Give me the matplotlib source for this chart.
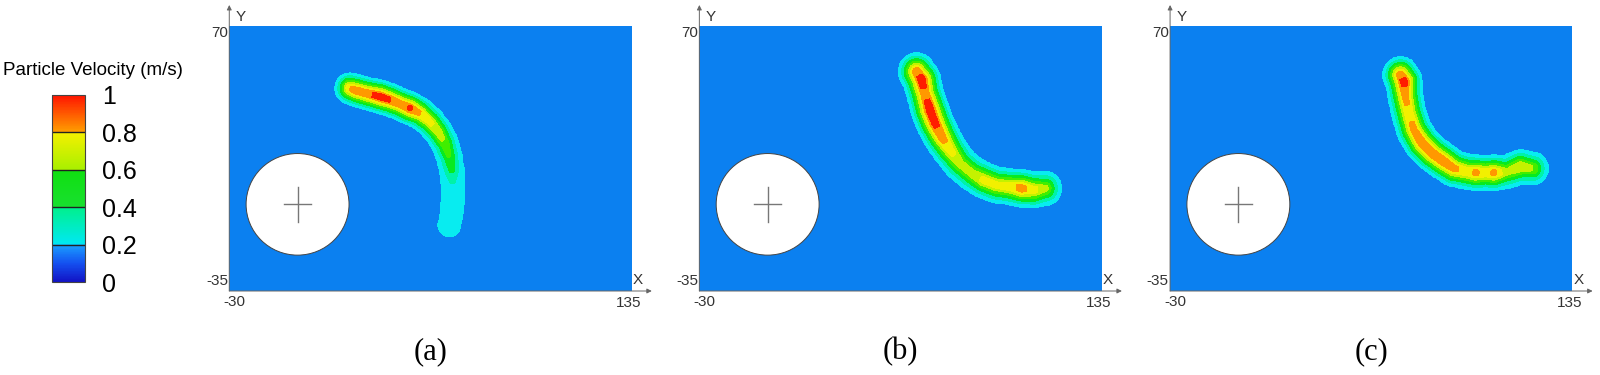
import numpy as np
import matplotlib.pyplot as plt
from matplotlib.colors import LinearSegmentedColormap, Normalize
from matplotlib.cm import ScalarMappable
from matplotlib.patches import Ellipse

# computational domain and cylinder
x_lim = [-30, 135]
y_lim = [-35, 70]
cyl_xy = (-2.0, -0.7)
cyl_w, cyl_h = 42.2, 40.2

# centre line of the particle cloud in each case (x, y) and peak velocity (m/s)
a_x = [19.5, 22.2, 26.3, 31.8, 35.9, 40.0, 44.1, 48.2, 52.3, 55.7, 58.4, 60.2, 61.2, 61.6, 61.6, 61.2, 60.2]
a_y = [45.2, 44.3, 43.2, 41.9, 40.6, 39.0, 37.3, 35.3, 32.0, 28.0, 23.4, 18.2, 12.9, 7.6, 1.0, -4.3, -8.9]
a_v = [0.8, 0.86, 0.87, 0.94, 0.9, 0.85, 0.91, 0.8, 0.72, 0.66, 0.58, 0.5, 0.42, 0.3, 0.29, 0.29, 0.28]

b_x = [59.1, 61.2, 62.5, 64.6, 66.7, 69.4, 72.8, 76.9, 81.7, 86.5, 91.9, 97.4, 102.2, 107.0, 111.8]
b_y = [51.8, 48.5, 43.2, 36.6, 31.3, 26.1, 20.8, 15.5, 11.6, 8.9, 6.9, 6.3, 5.6, 5.0, 5.6]
b_v = [0.86, 0.95, 0.87, 0.95, 0.92, 0.85, 0.74, 0.64, 0.64, 0.72, 0.72, 0.75, 0.84, 0.74, 0.62]

c_x = [64.5, 65.9, 66.5, 67.9, 70.0, 73.4, 77.5, 82.3, 86.4, 91.9, 95.3, 99.4, 102.8, 108.3, 113.8, 118.6]
c_y = [50.5, 47.8, 41.9, 35.3, 28.7, 23.4, 19.5, 16.2, 13.5, 12.2, 11.8, 11.8, 11.8, 12.2, 14.2, 13.5]
c_v = [0.86, 0.94, 0.82, 0.78, 0.82, 0.87, 0.87, 0.87, 0.82, 0.76, 0.82, 0.76, 0.82, 0.62, 0.69, 0.6]

cases = [(a_x, a_y, a_v), (b_x, b_y, b_v), (c_x, c_y, c_v)]
spread = [3.9, 5.0, 4.8]
panel_labels = ['(a)', '(b)', '(c)']

levels = [0, 0.2, 0.3, 0.4, 0.5, 0.6, 0.7, 0.8, 0.9, 1.05]
fill_colors = ['#0b80f0', '#08ecf0', '#00f2a8', '#08ea20', '#40ee00',
               '#c4f200', '#f2f000', '#ff9800', '#ff1c00']

cbar_ticks = [0, 0.2, 0.4, 0.6, 0.8, 1]
cbar_labels = ['0', '0.2', '0.4', '0.6', '0.8', '1']
cbar_cmap = LinearSegmentedColormap.from_list('vel', [
    (0.0, '#1212c4'), (0.1, '#1450f0'), (0.199, '#1aa0ff'),
    (0.201, '#00e8f4'), (0.399, '#00f08c'),
    (0.401, '#18e030'), (0.599, '#10e010'),
    (0.601, '#a8f000'), (0.799, '#f4f000'),
    (0.801, '#ffa000'), (1.0, '#ff1400')])


def cloud(xs, ys, vs, base, gx, gy):
    # value ramps from the centre-line velocity down to 0.2 at the cloud edge
    z = np.full(gx.shape, 0.1)
    for i in range(len(xs) - 1):
        x0, y0, x1, y1 = xs[i], ys[i], xs[i + 1], ys[i + 1]
        dx, dy = x1 - x0, y1 - y0
        t = ((gx - x0) * dx + (gy - y0) * dy) / (dx * dx + dy * dy)
        t = np.clip(t, 0, 1)
        d = np.hypot(gx - (x0 + t * dx), gy - (y0 + t * dy))
        v = vs[i] + t * (vs[i + 1] - vs[i])
        r = base + 3.0 * v
        s = np.clip(1 - d / r, 0, None)
        g = np.minimum(1, s / 0.85) ** 1.25
        zz = np.where(d < r, 0.2 + (v - 0.2) * g, 0.1)
        z = np.maximum(z, zz)
    return z


gx, gy = np.meshgrid(np.linspace(x_lim[0], x_lim[1], 661),
                     np.linspace(y_lim[0], y_lim[1], 421))

fig = plt.figure(figsize=(16, 3.75), dpi=100)
plt.rcParams['font.family'] = ['Liberation Sans', 'DejaVu Sans']

lefts = [0.1433, 0.4371, 0.7313]
for k, (xs, ys, vs) in enumerate(cases):
    ax = fig.add_axes([lefts[k], 0.224, 0.2515, 0.7075])
    z = cloud(xs, ys, vs, spread[k], gx, gy)
    ax.contourf(gx, gy, z, levels=levels, colors=fill_colors)
    ax.add_patch(Ellipse(cyl_xy, cyl_w, cyl_h, facecolor='white',
                         edgecolor='#444444', lw=0.7, zorder=3))
    ax.plot([cyl_xy[0] - 5.5, cyl_xy[0] + 5.5], [cyl_xy[1], cyl_xy[1]],
            color='#777777', lw=1, zorder=4)
    ax.plot([cyl_xy[0], cyl_xy[0]], [cyl_xy[1] - 7, cyl_xy[1] + 7],
            color='#777777', lw=1, zorder=4)
    ax.set_xlim(x_lim)
    ax.set_ylim(y_lim)
    ax.set_xticks([])
    ax.set_yticks([])
    for sp in ax.spines.values():
        sp.set_visible(False)

    # coordinate arrows
    ax.annotate('', xy=(0, 1.078), xytext=(0, 0), xycoords='axes fraction',
                arrowprops=dict(arrowstyle='-|>', color='#666666', lw=0.7,
                                mutation_scale=7, shrinkA=0, shrinkB=0))
    ax.annotate('', xy=(1.05, 0), xytext=(0, 0), xycoords='axes fraction',
                arrowprops=dict(arrowstyle='-|>', color='#666666', lw=0.7,
                                mutation_scale=7, shrinkA=0, shrinkB=0))
    tc = '#333333'
    ax.text(0.029, 1.031, 'Y', transform=ax.transAxes, ha='center', va='center',
            fontsize=11, color=tc)
    ax.text(1.016, 0.041, 'X', transform=ax.transAxes, ha='center', va='center',
            fontsize=11, color=tc)
    ax.text(-0.003, 0.974, str(y_lim[1]), transform=ax.transAxes, ha='right',
            va='center', fontsize=11, color=tc)
    ax.text(-0.003, 0.036, str(y_lim[0]), transform=ax.transAxes, ha='right',
            va='center', fontsize=11, color=tc)
    ax.text(0.013, -0.043, str(x_lim[0]), transform=ax.transAxes, ha='center',
            va='center', fontsize=11, color=tc)
    ax.text(0.992, -0.045, str(x_lim[1]), transform=ax.transAxes, ha='center',
            va='center', fontsize=11, color=tc)
    ax.text(0.5, -0.23, panel_labels[k], transform=ax.transAxes, ha='center',
            va='center', fontsize=22, family='Liberation Serif')

# colour bar
cax = fig.add_axes([0.0323, 0.2472, 0.0208, 0.4995])
cb = fig.colorbar(ScalarMappable(Normalize(0, 1), cbar_cmap), cax=cax)
cb.set_ticks(cbar_ticks)
cb.set_ticklabels(cbar_labels)
cb.outline.set_edgecolor('#444444')
cb.outline.set_linewidth(0.8)
cax.tick_params(length=0, labelsize=18, pad=12)
for t in cbar_ticks[1:-1]:
    cax.axhline(t, color='#222222', lw=1)
fig.text(0.058, 0.813, 'Particle Velocity (m/s)', ha='center', va='center',
         fontsize=13.5)

fig.savefig('out.png', dpi=100)
